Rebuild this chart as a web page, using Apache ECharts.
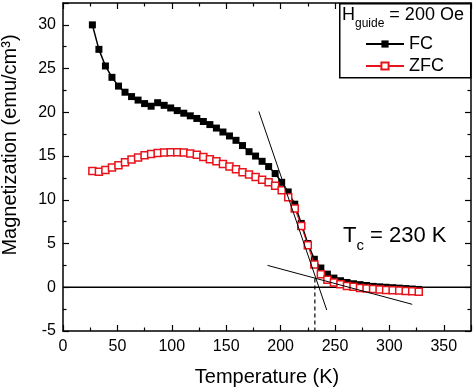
<!DOCTYPE html>
<html>
<head>
<meta charset="utf-8">
<script src="https://cdn.jsdelivr.net/npm/echarts@6/dist/echarts.min.js"></script>
<style>
html,body{margin:0;padding:0;background:#fff;}
#c{width:474px;height:391px;}
</style>
</head>
<body>
<div id="c"></div>
<script>
// Temperatures (K)
var temps = [27,33,39,45,51,57,63,69,75,81,87,93,99,105,111,117,123,129,135,141,147,153,159,165,171,177,183,189,195,201,207,213,219,225,231,237,243,249,255,261,267,273,279,285,291,297,303,309,315,321,327];
// FC magnetization (emu/cm3)
var fcValues = [30.0,27.2,25.3,24.0,23.0,22.3,21.8,21.4,21.0,20.7,21.1,20.8,20.5,20.2,19.9,19.6,19.3,18.95,18.6,18.2,17.75,17.3,16.8,16.2,15.5,15.0,14.4,13.8,13.0,12.0,10.9,9.5,7.3,5.0,3.2,2.2,1.5,1.05,0.75,0.55,0.4,0.3,0.2,0.1,0.05,0.0,-0.05,-0.1,-0.15,-0.2,-0.25];
// ZFC magnetization (emu/cm3)
var zfcValues = [13.3,13.2,13.4,13.7,13.95,14.3,14.6,14.85,15.1,15.25,15.35,15.4,15.45,15.45,15.4,15.3,15.15,14.9,14.65,14.4,14.1,13.8,13.5,13.15,12.9,12.6,12.3,12.0,11.6,11.1,10.3,9.0,7.0,4.8,2.6,1.5,0.85,0.55,0.35,0.15,0.05,-0.08,-0.13,-0.2,-0.25,-0.3,-0.33,-0.38,-0.42,-0.46,-0.5];
// Tangent construction lines
var tangentSteep = [[180,20.1],[242.4,-2.6]];
var tangentFlat = [[188,2.5],[321,-1.95]];
var tcDrop = [[231.5,1.0],[231.5,-5]];
var zeroLine = [[0,0],[375,0]];
// Axis ranges / ticks
var xMin = 0, xMax = 375, xStep = 50;
var yMin = -5, yMax = 32.5, yStep = 5;

function pairs(xs, ys){ return xs.map(function(x,i){return [x, ys[i]];}); }

var font = 'Liberation Sans, Arial, sans-serif';
var chart = echarts.init(document.getElementById('c'), null, {renderer:'canvas'});

var axisCommon = {
  type:'value',
  axisLine:{show:true, onZero:false, lineStyle:{color:'#000', width:1.5}},
  axisTick:{show:true, inside:true, length:6, lineStyle:{color:'#000', width:1.2}},
  minorTick:{show:true, splitNumber:2, length:3.5, lineStyle:{color:'#000', width:1.2}},
  splitLine:{show:false}
};

var option = {
  animation:false,
  backgroundColor:'#fff',
  grid:{left:63, right:3, top:3, bottom:60, containLabel:false, outerBoundsMode:'none'},
  xAxis:[
    Object.assign({}, axisCommon, {
      position:'bottom', min:xMin, max:xMax, interval:xStep,
      axisLabel:{color:'#000', fontSize:16, fontFamily:font, margin:8,
        formatter:function(v){return v>350?'':v;}},
      name:'Temperature (K)', nameLocation:'middle', nameGap:36,
      nameTextStyle:{color:'#000', fontSize:20, fontFamily:font}
    }),
    Object.assign({}, axisCommon, {
      position:'top', min:xMin, max:xMax, interval:xStep,
      axisLabel:{show:false}
    })
  ],
  yAxis:[
    Object.assign({}, axisCommon, {
      position:'left', min:yMin, max:yMax, interval:yStep,
      axisLabel:{color:'#000', fontSize:16, fontFamily:font, margin:7,
        formatter:function(v){return v>30?'':v;}},
      name:'Magnetization (emu/cm³)', nameLocation:'middle', nameGap:43,
      nameTextStyle:{color:'#000', fontSize:20, fontFamily:font, padding:[0,0,0,44]}
    }),
    Object.assign({}, axisCommon, {
      position:'right', min:yMin, max:yMax, interval:yStep,
      axisLabel:{show:false}
    })
  ],
  legend:{
    data:['FC','ZFC'],
    orient:'vertical',
    left:365, top:35, padding:0,
    itemWidth:38, itemHeight:9, itemGap:4,
    textStyle:{color:'#000', fontSize:18, fontFamily:font},
    selectedMode:false
  },
  graphic:[
    {type:'rect', left:339, top:3, shape:{width:131, height:74},
     style:{fill:'#fff', stroke:'#000', lineWidth:1.5}, z:1},
    {type:'text', left:342, top:6, z:2,
     style:{
       text:'{a|H}{b|guide}{a| = 200 Oe}',
       rich:{
         a:{fontSize:18, fontFamily:font, fill:'#000', lineHeight:22, verticalAlign:'top'},
         b:{fontSize:12, fontFamily:font, fill:'#000', lineHeight:22, padding:[12,0,0,0], verticalAlign:'top'}
       }
     }},
    {type:'text', left:343, top:225, z:2,
     style:{
       text:'{a|T}{b|c}{a| = 230 K}',
       rich:{
         a:{fontSize:22, fontFamily:font, fill:'#000', lineHeight:26, verticalAlign:'top'},
         b:{fontSize:15, fontFamily:font, fill:'#000', lineHeight:26, padding:[13,0,0,0], verticalAlign:'top'}
       }
     }}
  ],
  series:[
    {name:'zero', type:'line', data:zeroLine, symbol:'none', silent:true,
     lineStyle:{color:'#000', width:1.5}, z:1},
    {name:'tangent1', type:'line', data:tangentSteep, symbol:'none', silent:true,
     lineStyle:{color:'#000', width:1}, z:5},
    {name:'tangent2', type:'line', data:tangentFlat, symbol:'none', silent:true,
     lineStyle:{color:'#000', width:1}, z:5},
    {name:'tcline', type:'line', data:tcDrop, symbol:'none', silent:true,
     lineStyle:{color:'#000', width:1.2, type:[4,3]}, z:1},
    {name:'FC', type:'line', data:pairs(temps, fcValues),
     symbol:'rect', symbolSize:7, showAllSymbol:true,
     itemStyle:{color:'#000', borderColor:'#000', borderWidth:0},
     lineStyle:{color:'#000', width:1.5}, z:3},
    {name:'ZFC', type:'line', data:pairs(temps, zfcValues),
     symbol:'rect', symbolSize:7, showAllSymbol:true,
     itemStyle:{color:'#fff', borderColor:'#e8141b', borderWidth:1.5},
     lineStyle:{color:'#e8141b', width:1}, z:4}
  ]
};
chart.setOption(option);
</script>
</body>
</html>
